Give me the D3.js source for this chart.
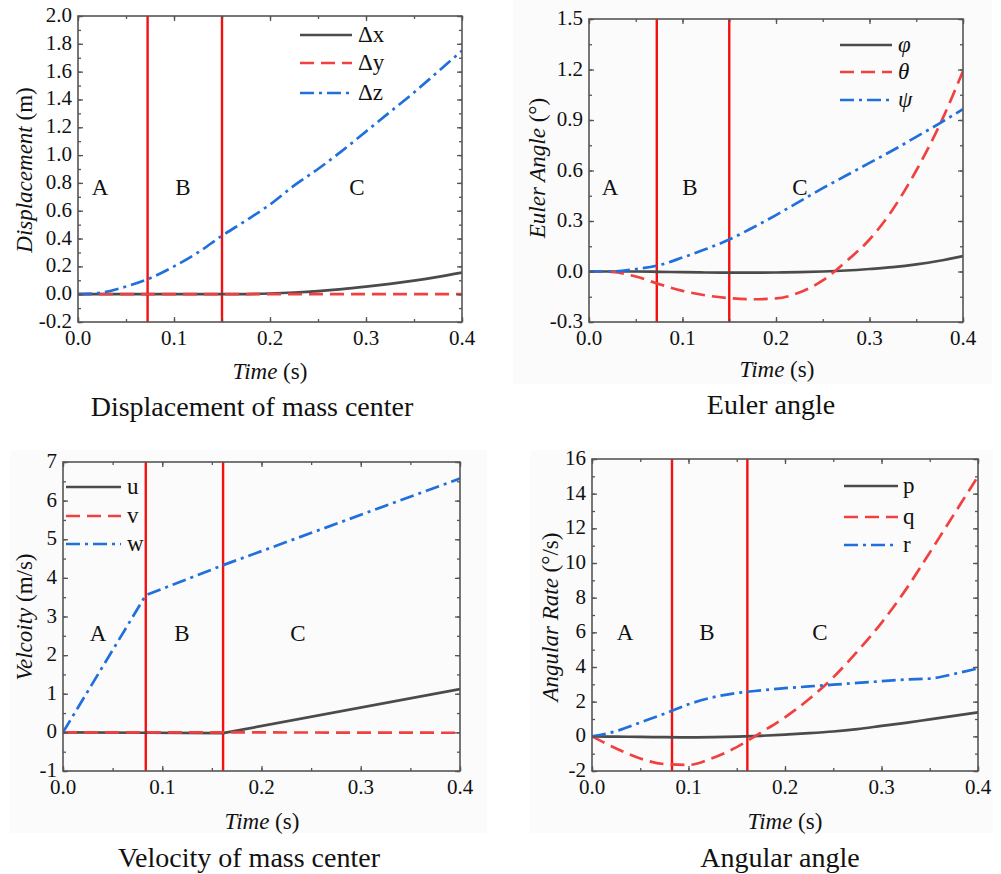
<!DOCTYPE html>
<html>
<head>
<meta charset="utf-8">
<script src="https://cdn.jsdelivr.net/npm/d3@7"></script>
<style>
  html, body { margin: 0; padding: 0; background: #ffffff; }
  svg { display: block; }
  svg text { font-family: "Liberation Serif", "DejaVu Serif", serif; }
</style>
</head>
<body>
<svg id="fig" width="1001" height="874" font-family="Liberation Serif, DejaVu Serif, serif"></svg>
<script>
// ---- data ----
const timeGrid = [0, 0.025, 0.05, 0.075, 0.1, 0.125, 0.15, 0.175, 0.2, 0.225, 0.25, 0.275, 0.3, 0.325, 0.35, 0.375, 0.4];
const xTickValues = [0, 0.1, 0.2, 0.3, 0.4];

// displacement of mass center (m)
const dispX = [0, 0, 0, 0, 0, 0, 0, 0.001, 0.005, 0.012, 0.022, 0.036, 0.054, 0.074, 0.097, 0.124, 0.155];
const dispY = [0, 0, 0, 0, 0, 0, 0, 0, 0, 0, 0, 0, 0, 0, 0, 0, 0];
const dispZ = [0, 0.012, 0.055, 0.115, 0.2, 0.3, 0.42, 0.53, 0.645, 0.78, 0.9, 1.03, 1.17, 1.31, 1.45, 1.6, 1.75];
const dispPhases = [0.0725, 0.15];

// Euler angle (deg)
const eulerPhi = [0, 0, 0, -0.002, -0.004, -0.006, -0.007, -0.007, -0.006, -0.004, 0, 0.006, 0.015, 0.026, 0.042, 0.064, 0.092];
const eulerTheta = [0, -0.003, -0.03, -0.075, -0.115, -0.142, -0.158, -0.165, -0.16, -0.125, -0.053, 0.06, 0.19, 0.37, 0.6, 0.87, 1.19];
const eulerPsi = [0, 0, 0.014, 0.038, 0.083, 0.133, 0.19, 0.26, 0.335, 0.415, 0.495, 0.57, 0.645, 0.72, 0.8, 0.88, 0.965];
const eulerPhases = [0.0725, 0.15];

// velocity of mass center (m/s)
const velTime = [0, 0.0834, 0.1613, 0.4];
const velU = [0, -0.01, -0.02, 1.12];
const velV = [0, 0, 0, -0.01];
const velW = [0, 3.55, 4.33, 6.57];
const velPhases = [0.0834, 0.1613];

// angular rate (deg/s)
const rateP = [0, -0.02, -0.03, -0.05, -0.06, -0.05, -0.02, 0.03, 0.1, 0.18, 0.28, 0.42, 0.6, 0.78, 0.98, 1.18, 1.38];
const rateQ = [0, -0.7, -1.28, -1.6, -1.65, -1.25, -0.62, 0.22, 1.1, 2.15, 3.4, 4.9, 6.55, 8.45, 10.6, 12.8, 15.0];
const rateR = [0, 0.3, 0.8, 1.3, 1.85, 2.25, 2.5, 2.65, 2.78, 2.88, 2.98, 3.08, 3.18, 3.28, 3.33, 3.6, 3.92];
const ratePhases = [0.0829, 0.161];

const regionNames = ["A", "B", "C"];

// ---- styles ----
const SERIF = "Liberation Serif, DejaVu Serif, serif";
const STYLES = {
  solid:   { stroke: "#4b4b4b", dash: null },
  dash:    { stroke: "#f0403f", dash: "14,7" },
  dashdot: { stroke: "#1f6fdc", dash: "14,5,3,5" }
};
const FRAME = "#555555";
const PHASE_RED = "#f51010";

const svg = d3.select("#fig");
const minusFix = f => v => f(v).replace("\u2212", "-");

function label(sel) {
  return sel.append("text").attr("font-family", SERIF).attr("fill", "#111");
}

function drawPanel(cfg) {
  const g = svg.append("g");
  if (cfg.bg) {
    g.append("rect").attr("x", cfg.bg[0]).attr("y", cfg.bg[1])
      .attr("width", cfg.bg[2]).attr("height", cfg.bg[3]).attr("fill", "#fbfbfb");
  }
  const x = d3.scaleLinear().domain([0, 0.4]).range([cfg.left, cfg.right]);
  const y = d3.scaleLinear().domain(cfg.yDomain).range([cfg.bottom, cfg.top]);

  const clipId = "clip" + cfg.id;
  g.append("clipPath").attr("id", clipId).append("rect")
    .attr("x", cfg.left).attr("y", cfg.top)
    .attr("width", cfg.right - cfg.left).attr("height", cfg.bottom - cfg.top);

  // phase boundaries
  g.selectAll(".phase").data(cfg.phases).enter().append("line")
    .attr("x1", d => x(d)).attr("x2", d => x(d))
    .attr("y1", cfg.top).attr("y2", cfg.bottom)
    .attr("stroke", PHASE_RED).attr("stroke-width", 2.4);

  // series
  const plot = g.append("g").attr("clip-path", `url(#${clipId})`);
  cfg.series.forEach(s => {
    const st = STYLES[s.style];
    const pts = s.t.map((t, i) => [t, s.v[i]]);
    const line = d3.line().x(d => x(d[0])).y(d => y(d[1])).curve(cfg.curve || d3.curveMonotoneX);
    plot.append("path").datum(pts).attr("d", line)
      .attr("fill", "none").attr("stroke", st.stroke).attr("stroke-width", 2.7)
      .attr("stroke-dasharray", st.dash);
  });

  // ticks (inward on all four sides)
  const xMinor = d3.range(0, 0.4001, 0.05);
  const yMajor = d3.range(cfg.yDomain[0], cfg.yDomain[1] + cfg.yStep / 100, cfg.yStep);
  const yMinor = d3.range(cfg.yDomain[0], cfg.yDomain[1] + cfg.yStep / 100, cfg.yStep / 2);
  const mk = (axis, sc, vals, size) => axis(sc).tickValues(vals).tickSize(size).tickFormat("");
  const axisStyle = sel => { sel.select(".domain").remove(); sel.selectAll("line").attr("stroke", FRAME).attr("stroke-width", 1.3); };

  g.append("g").attr("transform", `translate(0,${cfg.bottom})`).call(mk(d3.axisBottom, x, xMinor, -3)).call(axisStyle);
  g.append("g").attr("transform", `translate(0,${cfg.bottom})`).call(mk(d3.axisBottom, x, xTickValues, -5)).call(axisStyle);
  g.append("g").attr("transform", `translate(0,${cfg.top})`).call(mk(d3.axisTop, x, xMinor, -3)).call(axisStyle);
  g.append("g").attr("transform", `translate(0,${cfg.top})`).call(mk(d3.axisTop, x, xTickValues, -5)).call(axisStyle);
  g.append("g").attr("transform", `translate(${cfg.left},0)`).call(mk(d3.axisLeft, y, yMinor, -3)).call(axisStyle);
  g.append("g").attr("transform", `translate(${cfg.left},0)`).call(mk(d3.axisLeft, y, yMajor, -5)).call(axisStyle);
  g.append("g").attr("transform", `translate(${cfg.right},0)`).call(mk(d3.axisRight, y, yMinor, -3)).call(axisStyle);
  g.append("g").attr("transform", `translate(${cfg.right},0)`).call(mk(d3.axisRight, y, yMajor, -5)).call(axisStyle);

  // frame
  g.append("rect").attr("x", cfg.left).attr("y", cfg.top)
    .attr("width", cfg.right - cfg.left).attr("height", cfg.bottom - cfg.top)
    .attr("fill", "none").attr("stroke", FRAME).attr("stroke-width", 1.6);

  // tick labels
  const xfmt = minusFix(d3.format(".1f"));
  xTickValues.forEach(d => {
    label(g).attr("x", x(d)).attr("y", cfg.bottom + 23)
      .attr("text-anchor", "middle").attr("font-size", 21).text(xfmt(d));
  });
  const yfmt = minusFix(d3.format(cfg.yFormat));
  yMajor.forEach(d => {
    label(g).attr("x", cfg.left - 6).attr("y", y(d) + 6)
      .attr("text-anchor", "end").attr("font-size", 21).text(yfmt(d));
  });

  // region labels
  cfg.regionX.forEach((rx, i) => {
    label(g).attr("x", rx).attr("y", cfg.regionY + 8)
      .attr("text-anchor", "middle").attr("font-size", 23).text(regionNames[i]);
  });

  // legend
  cfg.series.forEach((s, i) => {
    const st = STYLES[s.style];
    const ly = cfg.legend.ys[i];
    g.append("line").attr("x1", cfg.legend.x0).attr("x2", cfg.legend.x1)
      .attr("y1", ly).attr("y2", ly)
      .attr("stroke", st.stroke).attr("stroke-width", 2.7).attr("stroke-dasharray", st.dash);
    label(g).attr("x", cfg.legend.tx).attr("y", ly + 7)
      .attr("font-size", 23)
      .attr("font-style", s.italic ? "italic" : null)
      .text(s.name);
  });

  // y axis title
  const yt = label(g)
    .attr("transform", `translate(${cfg.yTitle.x},${cfg.yTitle.y}) rotate(-90)`)
    .attr("text-anchor", "middle").attr("dominant-baseline", "central")
    .attr("font-size", 23);
  yt.append("tspan").attr("font-style", "italic").text(cfg.yTitle.italic);
  yt.append("tspan").text(cfg.yTitle.rest);

  // x axis title
  const xt = label(g).attr("x", cfg.xTitle.x).attr("y", cfg.xTitle.y)
    .attr("text-anchor", "middle").attr("font-size", 23);
  xt.append("tspan").attr("font-style", "italic").text("Time");
  xt.append("tspan").text(" (s)");

  // caption
  label(g).attr("x", cfg.caption.x).attr("y", cfg.caption.y)
    .attr("text-anchor", "middle").attr("font-size", 28)
    .text(cfg.caption.text);
}

drawPanel({
  id: 1, bg: null,
  left: 78, right: 462, top: 16, bottom: 322,
  yDomain: [-0.2, 2.0], yStep: 0.2, yFormat: ".1f",
  phases: dispPhases,
  series: [
    { t: timeGrid, v: dispX, style: "solid", name: "\u0394x" },
    { t: timeGrid, v: dispY, style: "dash", name: "\u0394y" },
    { t: timeGrid, v: dispZ, style: "dashdot", name: "\u0394z" }
  ],
  legend: { x0: 300, x1: 352, tx: 358, ys: [35, 63, 93] },
  regionX: [100, 183, 357], regionY: 187,
  yTitle: { x: 24, y: 170, italic: "Displacement", rest: " (m)" },
  xTitle: { x: 270, y: 379 },
  caption: { x: 252, y: 416, text: "Displacement of mass center" }
});

drawPanel({
  id: 2, bg: [513, 0, 479, 384],
  left: 589, right: 963, top: 19, bottom: 322,
  yDomain: [-0.3, 1.5], yStep: 0.3, yFormat: ".1f",
  phases: eulerPhases,
  series: [
    { t: timeGrid, v: eulerPhi, style: "solid", name: "\u03c6", italic: true },
    { t: timeGrid, v: eulerTheta, style: "dash", name: "\u03b8", italic: true },
    { t: timeGrid, v: eulerPsi, style: "dashdot", name: "\u03c8", italic: true }
  ],
  legend: { x0: 840, x1: 892, tx: 898, ys: [45, 72, 100] },
  regionX: [610, 690, 800], regionY: 187,
  yTitle: { x: 537, y: 168, italic: "Euler Angle", rest: " (\u00b0)" },
  xTitle: { x: 777, y: 377 },
  caption: { x: 771, y: 414, text: "Euler angle" }
});

drawPanel({
  id: 3, bg: [10, 450, 477, 383],
  left: 63, right: 460, top: 462, bottom: 771,
  yDomain: [-1, 7], yStep: 1, yFormat: "d",
  phases: velPhases, curve: d3.curveLinear,
  series: [
    { t: velTime, v: velU, style: "solid", name: "u" },
    { t: velTime, v: velV, style: "dash", name: "v" },
    { t: velTime, v: velW, style: "dashdot", name: "w" }
  ],
  legend: { x0: 66, x1: 121, tx: 127, ys: [487, 516, 544] },
  regionX: [98, 182, 298], regionY: 633,
  yTitle: { x: 24, y: 617, italic: "Velcoity", rest: " (m/s)" },
  xTitle: { x: 262, y: 829 },
  caption: { x: 249, y: 867, text: "Velocity of mass center" }
});

drawPanel({
  id: 4, bg: [530, 450, 463, 383],
  left: 592, right: 978, top: 459, bottom: 771,
  yDomain: [-2, 16], yStep: 2, yFormat: "d",
  phases: ratePhases,
  series: [
    { t: timeGrid, v: rateP, style: "solid", name: "p" },
    { t: timeGrid, v: rateQ, style: "dash", name: "q" },
    { t: timeGrid, v: rateR, style: "dashdot", name: "r" }
  ],
  legend: { x0: 844, x1: 898, tx: 903, ys: [486, 517, 545] },
  regionX: [625, 707, 820], regionY: 632,
  yTitle: { x: 550, y: 617, italic: "Angular Rate", rest: " (\u00b0/s)" },
  xTitle: { x: 785, y: 829 },
  caption: { x: 780, y: 867, text: "Angular angle" }
});
</script>
</body>
</html>
